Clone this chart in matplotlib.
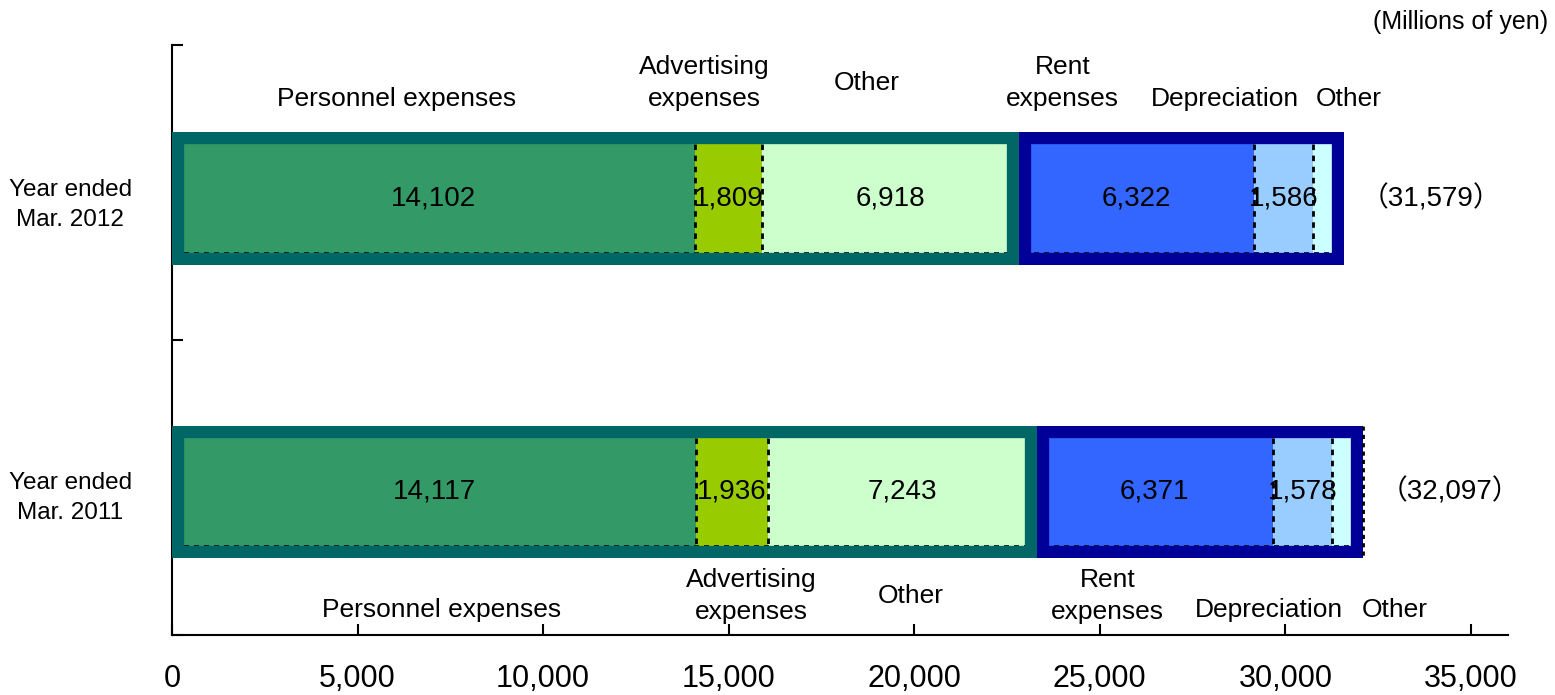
import matplotlib.pyplot as plt
from matplotlib.patches import Rectangle
import numpy as np

plt.rcParams['font.family'] = ['Liberation Sans', 'Noto Sans CJK JP', 'DejaVu Sans']

years = ['Year ended\nMar. 2012', 'Year ended\nMar. 2011']
seg_names = ['Personnel expenses', 'Advertising\nexpenses', 'Other',
             'Rent\nexpenses', 'Depreciation', 'Other']
vals_2012 = [14102, 1809, 6918, 6322, 1586, 842]
vals_2011 = [14117, 1936, 7243, 6371, 1578, 852]
totals = [31579, 32097]
seg_colors = ['#339966', '#99CC00', '#CCFFCC', '#3366FF', '#99CCFF', '#CCFFFF']
group_colors = ['#006666', '#000099']
groups = [(0, 3), (3, 6)]   # segment index ranges outlined together

data = np.array([vals_2012, vals_2011])
ypos = [0.02, 1.015]

fig = plt.figure(figsize=(15.55, 6.95), dpi=100)
ax = fig.add_axes([0.1106, 0.0863, 0.8592, 0.849])

bar_h = 0.45
border = 0.041        # border thickness in y units (~12px)
x_border = 330        # same thickness in x units

for i, y in enumerate(ypos):
    lefts = np.concatenate([[0], np.cumsum(data[i])[:-1]])
    # segments
    ax.barh(y, data[i], left=lefts, height=bar_h, color=seg_colors,
            edgecolor='none', zorder=2)
    # value labels (not on the small trailing "Other")
    for j in range(5):
        ax.text(lefts[j] + data[i][j] / 2, y, f'{data[i][j]:,}',
                ha='center', va='center', fontsize=20, zorder=6)
    # dashed separators inside each group
    inner = bar_h / 2 - border
    for j in (1, 2, 4, 5):
        ax.vlines(lefts[j], y - inner, y + inner, colors='black',
                  linestyles=(0, (2, 2)), lw=2, zorder=3)
    ax.hlines(y + inner, x_border, totals[i], colors='black',
              linestyles=(0, (3, 3)), lw=1.2, zorder=3)
    # outlines around groups, stroke clipped to inside
    for (a, b), gc in zip(groups, group_colors):
        x0 = lefts[a]
        w = data[i][a:b].sum()
        r = Rectangle((x0, y - bar_h / 2), w, bar_h, fill=False,
                      edgecolor=gc, lw=17.5, zorder=4)
        ax.add_patch(r)
        r.set_clip_path(r)
    # total
    ax.text(totals[i] + 450, y, f'（{totals[i]:,}）', ha='left', va='center',
            fontsize=20, zorder=6)
    if i == 1:
        ax.vlines(totals[i], y - bar_h / 2, y + bar_h / 2, colors='black',
                  linestyles=(0, (1.5, 1.5)), lw=2, zorder=5)

# category labels above 2012 and below 2011
top_x = [6040, 14343, 18711, 23996, 28364, 31707]
bot_x = [7253, 15611, 19898, 25209, 29550, 32947]
for name, xt, xb in zip(seg_names, top_x, bot_x):
    two = '\n' in name
    yt = -0.372 if (two or name == 'Other' and xt < 20000) else -0.318
    yb = 1.367 if (two or name == 'Other' and xb < 22000) else 1.414
    ax.text(xt, yt, name, ha='center', va='center', fontsize=19,
            linespacing=1.4, zorder=6)
    ax.text(xb, yb, name, ha='center', va='center', fontsize=19,
            linespacing=1.4, zorder=6)

ax.set_xlim(0, 36000)
ax.set_ylim(1.5, -0.5)
ax.set_xticks(np.arange(0, 35001, 5000))
ax.set_xticklabels([f'{v:,}' for v in range(0, 35001, 5000)], fontsize=22)
ax.tick_params(axis='x', direction='in', length=8, width=1.5, pad=21)
ax.set_yticks(ypos)
ax.set_yticklabels(years, fontsize=17.5, multialignment='center', linespacing=1.45)
ax.set_yticks([-0.5, 0.5, 1.5], minor=True)
ax.tick_params(axis='y', which='major', length=0, pad=29)
ax.tick_params(axis='y', which='minor', direction='in', length=8, width=1.5)

for s in ['top', 'right']:
    ax.spines[s].set_visible(False)
for s in ['left', 'bottom']:
    ax.spines[s].set_linewidth(1.5)

fig.text(0.9955, 0.968, '(Millions of yen)', ha='right', va='center', fontsize=18)

fig.savefig('out.png', dpi=100)
